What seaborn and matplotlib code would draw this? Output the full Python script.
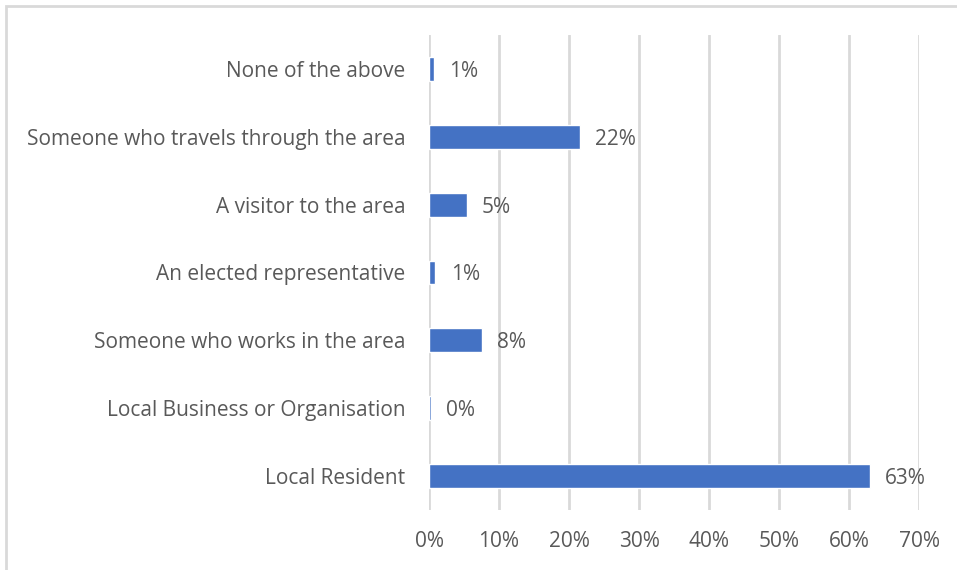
import matplotlib
matplotlib.use("Agg")
import matplotlib.pyplot as plt
import matplotlib.patches as mpatches
import seaborn as sns
import pandas as pd

categories = [
    "None of the above",
    "Someone who travels through the area",
    "A visitor to the area",
    "An elected representative",
    "Someone who works in the area",
    "Local Business or Organisation",
    "Local Resident",
]
values = [0.7, 21.5, 5.4, 0.9, 7.6, 0.3, 63.0]
x_ticks = [0, 10, 20, 30, 40, 50, 60, 70]

BAR = "#4472C4"
GRID = "#D9D9D9"
TEXT = "#595959"

sns.set_theme(style="white")
plt.rcParams["font.family"] = ["Open Sans", "DejaVu Sans"]

df = pd.DataFrame({"category": categories, "value": values})

fig = plt.figure(figsize=(9.57, 5.70), dpi=100)
ax = fig.add_axes([0.4483, 0.1053, 0.5120, 0.8333])

sns.barplot(data=df, x="value", y="category", orient="h", color=BAR,
            saturation=1, width=0.35, ax=ax, zorder=3)

ax.set_xlim(0, 70)
ax.set_xticks(x_ticks)
ax.set_xticklabels([f"{t}%" for t in x_ticks])
ax.set_xlabel("")
ax.set_ylabel("")
ax.grid(axis="x", color=GRID, linewidth=2, zorder=0)
ax.grid(axis="y", visible=False)
for s in ax.spines.values():
    s.set_visible(False)
ax.tick_params(axis="both", length=0, colors=TEXT, labelsize=15)
ax.tick_params(axis="y", pad=17)
ax.tick_params(axis="x", pad=15)

for i, v in enumerate(values):
    ax.annotate(f"{v:.0f}%", xy=(v, i), xytext=(11, 0), textcoords="offset points",
                ha="left", va="center_baseline", color=TEXT, fontsize=15)

# thin frame around the chart area
W, H = 957, 570
frame = mpatches.Rectangle((6 / W, -0.1), 1.2, 1 - 6 / H + 0.1, transform=fig.transFigure,
                           fill=False, edgecolor=GRID, linewidth=2, clip_on=False)
fig.patches.append(frame)

fig.savefig("out.png", dpi=100, facecolor="white")
